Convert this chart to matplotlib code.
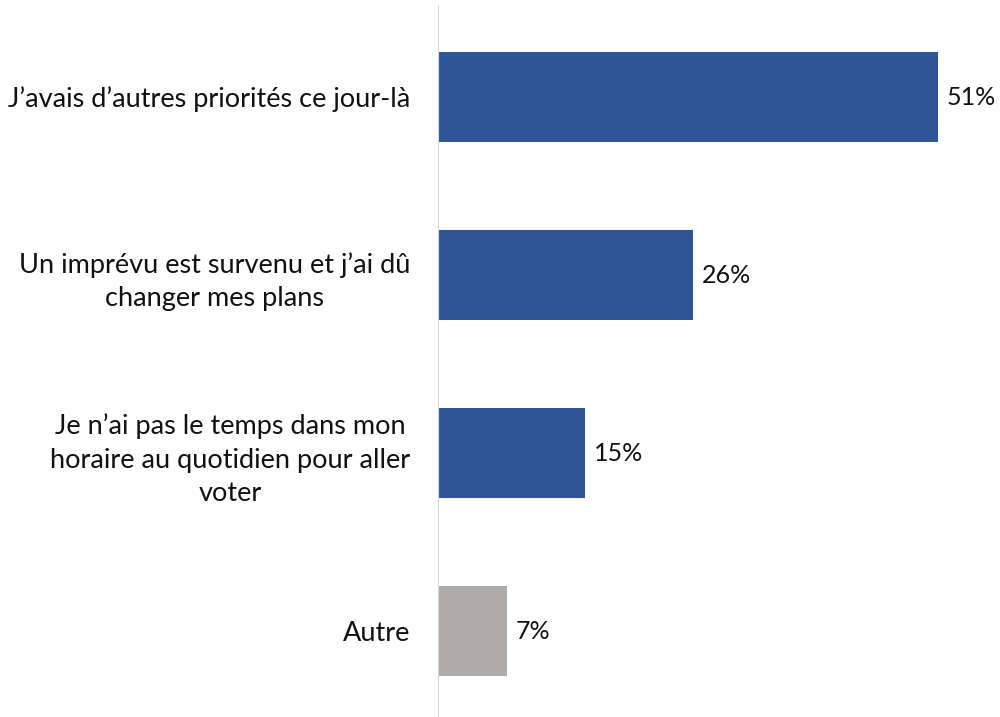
import matplotlib
matplotlib.use("Agg")
import matplotlib.pyplot as plt

plt.rcParams['font.family'] = ['Lato', 'DejaVu Sans']

categories = [
    "J\u2019avais d\u2019autres priorités ce jour-là",
    "Un imprévu est survenu et j\u2019ai dû\nchanger mes plans",
    "Je n\u2019ai pas le temps dans mon\nhoraire au quotidien pour aller\nvoter",
    "Autre",
]
values = [51, 26, 15, 7]
colors = ['#2F5597', '#2F5597', '#2F5597', '#AEABAB']

fig = plt.figure(figsize=(10, 7.17), dpi=100)
ax = fig.add_axes([0.438, 0.0, 0.56, 0.993])

pos = list(range(len(values)))
bars = ax.barh(pos, values, height=0.505, color=colors)

for y, v in zip(pos, values):
    ax.text(v + 0.9, y, f"{v}%", va='center', ha='left', fontsize=18, color='#111111')

ax.set_xlim(0, 57.1)
ax.set_ylim(3.483, -0.517)
ax.set_yticks(pos)
ax.set_yticklabels(categories, fontsize=19.5, multialignment='center',
                   linespacing=1.42, color='#111111')
ax.tick_params(axis='y', length=0, pad=20)
ax.set_xticks([])
for s in ['top', 'right', 'bottom']:
    ax.spines[s].set_visible(False)
ax.spines['left'].set_color('#D9D9D9')

fig.savefig("out.png", dpi=100)
